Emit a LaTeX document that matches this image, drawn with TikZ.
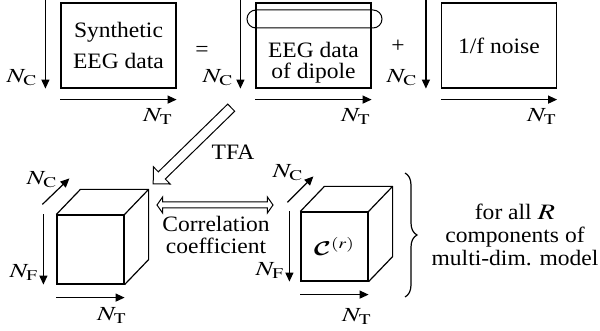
\documentclass[tikz,border=0pt]{standalone}
\usepackage{mathptmx}
\usepackage{fontspec}
\setmainfont{Liberation Serif}[FakeStretch=1.07]
\usepackage{graphicx}
\usetikzlibrary{
  arrows.meta,
  positioning,
  shapes.arrows,
  decorations.pathreplacing
}
\DeclareMathAlphabet{\mathbcal}{OMS}{cmsy}{b}{n}
\newcommand{\widemath}[1]{\scalebox{1.3}[1]{$#1$}}
\newcommand{\Nax}[1]{\widemath{N_{\mathrm{#1}}}}
\tikzset{
  databox/.style={draw,line width=0.6pt,minimum width=57.5pt,minimum height=42.5pt,inner sep=0pt,align=center},
  dipolering/.style={draw,line width=0.5pt,rounded corners=4.5pt,minimum width=67.5pt,minimum height=9pt,inner sep=0pt},
  axis/.style={-{Triangle[length=4.5pt,width=4pt]},line width=0.6pt},
  axlabel/.style={inner sep=0pt,font=\fontsize{10}{12}\selectfont},
  cubeface/.style={draw,line width=0.6pt,minimum width=33.5pt,minimum height=34.5pt,inner sep=0pt},
  cubeedge/.style={line width=0.6pt,line join=round},
  tfaarrow/.style={draw,line width=0.5pt,single arrow,single arrow tip angle=90,single arrow head extend=3.5pt,inner xsep=0pt,inner ysep=2.25pt,minimum height=54.5pt},
  corrarrow/.style={draw,line width=0.5pt,double arrow,double arrow tip angle=110,double arrow head extend=2.5pt,inner xsep=0pt,inner ysep=1.25pt,minimum height=58pt}
}
\begin{document}
\begin{tikzpicture}[x=0.5pt,y=-0.5pt,font=\fontsize{11}{13.2}\selectfont]
\useasboundingbox (0,0) rectangle (600,331);

% top row: data = dipole + noise
\node[databox] (syn) at (118.5,45.5) {Synthetic\\[2.3pt]EEG data};
\node[databox] (dip) at (313.5,45.5) {};
\node[dipolering] (ring) at (314.5,19) {};
\node[align=center,inner sep=0pt,font=\fontsize{11}{10.5}\selectfont] (diptxt) at (313.5,63) {EEG data\\of dipole};
\node[databox] (noise) at (499,45.5) {1/f noise};

\node[inner sep=0pt] (eq) at (202,51) {=};
\node[inner sep=0pt] (plus) at (398,46) {+};

\foreach \b in {syn,dip,noise}{
  \draw[axis] ([shift={(-15,-3)}]\b.north west) -- ([xshift=-7.5pt]\b.south west);
  \draw[axis] ([yshift=-5.5pt]\b.south west) -- ([yshift=-5.5pt]\b.south east);
}

\node[axlabel] (syn-c) at (22,78) {\Nax{C}};
\node[axlabel] (dip-c) at (218,78) {\Nax{C}};
\node[axlabel] (noise-c) at (402,78) {\Nax{C}};
\node[axlabel] (syn-t) at (158,117) {\Nax{T}};
\node[axlabel] (dip-t) at (356,117) {\Nax{T}};
\node[axlabel] (noise-t) at (542,117) {\Nax{T}};

% TFA step
\node[tfaarrow,rotate=224.3] (tfa) at (194,144) {};
\node[inner sep=0pt] (tfa-lbl) at (233,152) {TFA};

% left cube
\node[cubeface] (cl) at (90.5,249.5) {};
\draw[cubeedge] (cl.north west) -- ++(24,-25) -| ([shift={(24,-25)}]cl.south east) -- (cl.south east)
  (cl.north east) -- ++(24,-25);
\draw[axis] ([shift={(-14,-10)}]cl.north west) -- ([shift={(13,-36)}]cl.north west);
\draw[axis] ([xshift=-6.5pt]cl.north west) -- ([xshift=-6.5pt]cl.south west);
\draw[axis] ([yshift=-6.5pt]cl.south west) -- ([yshift=-6.5pt]cl.south east);
\node[axlabel] (cl-c) at (42,180) {\Nax{C}};
\node[axlabel] (cl-f) at (24,273) {\Nax{F}};
\node[axlabel] (cl-t) at (112,316) {\Nax{T}};

% correlation
\node[corrarrow] (corr) at (215,205) {};
\node[align=center,inner sep=0pt,font=\fontsize{11}{11}\selectfont] (corr-lbl) at (216,235) {Correlation\\coefficient};

% right cube
\node[cubeface,font=\fontsize{10}{12}\selectfont] (cr) at (334.5,246.5) {\widemath{\mathbcal{C}^{(r)}}};
\draw[cubeedge] (cr.north west) -- ++(24,-25) -| ([shift={(24,-25)}]cr.south east) -- (cr.south east)
  (cr.north east) -- ++(24,-25);
\draw[axis] ([shift={(-13,-9)}]cr.north west) -- ([shift={(13,-35)}]cr.north west);
\draw[axis] ([xshift=-5.5pt]cr.north west) -- ([xshift=-5.5pt]cr.south west);
\draw[axis] ([yshift=-6.5pt]cr.south west) -- ([yshift=-6.5pt]cr.south east);
\node[axlabel] (cr-c) at (288,173) {\Nax{C}};
\node[axlabel] (cr-f) at (270,271) {\Nax{F}};
\node[axlabel] (cr-t) at (357,317) {\Nax{T}};

% brace over all components
\coordinate (br-top) at (405,173);
\coordinate (br-bot) at (405,297);
\draw[decorate,decoration={brace,amplitude=6pt},line width=0.6pt] (br-top) -- (br-bot);
\node[align=center,inner sep=0pt,font=\fontsize{11}{11.5}\selectfont] (forall) at (515,235) {for all \widemath{R}\\components of\\multi-dim. model};
\end{tikzpicture}
\end{document}
